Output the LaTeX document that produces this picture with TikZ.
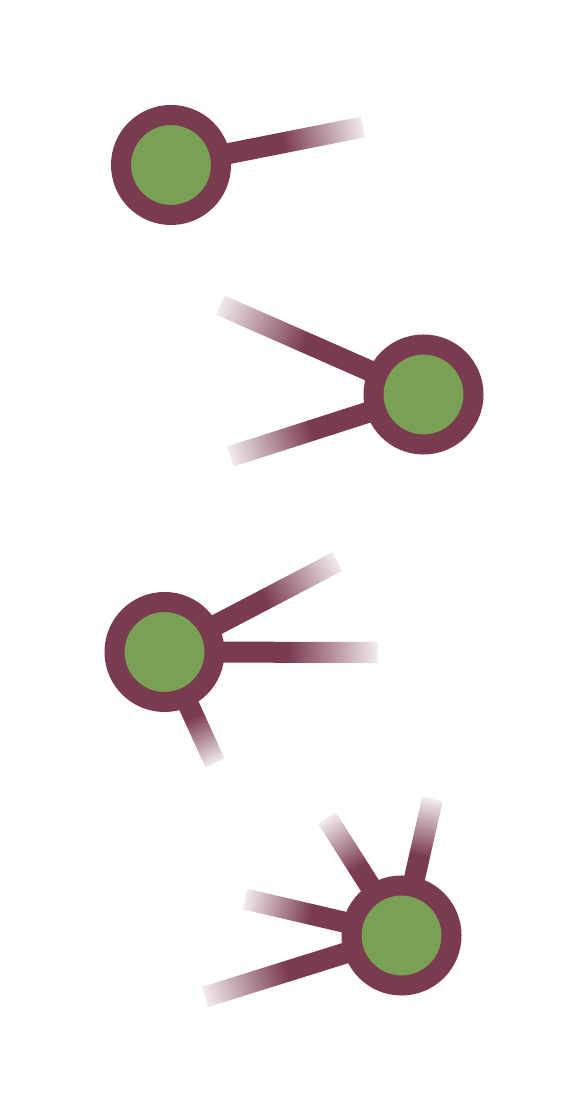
\documentclass[tikz,border=0pt]{standalone}
\usetikzlibrary{calc, backgrounds}

\definecolor{hubred}{RGB}{122,58,80}
\definecolor{hubgreen}{RGB}{120,161,84}
\pgfdeclarehorizontalshading{stubfade}{100bp}{color(0bp)=(hubred); color(54bp)=(hubred); color(75bp)=(hubred!10!white); color(100bp)=(hubred!10!white)}

\begin{document}
\begin{tikzpicture}[
    hub/.style={circle, draw=hubred, fill=hubgreen, line width=0.4cm, minimum size=2cm, inner sep=0pt},
    ]
    \useasboundingbox (0,0) rectangle (11.76,22);
    % hubs
    \node [hub] (n1) at (3.42,18.70) {};
    \node [hub] (n2) at (8.47,14.11) {};
    \node [hub] (n3) at (3.29,8.96) {};
    \node [hub] (n4) at (8.03,3.29) {};
    % free ends of the stubs
    \coordinate (e1a) at (7.26,19.46);
    \coordinate (e2a) at (4.40,15.90);
    \coordinate (e2b) at (4.61,12.87);
    \coordinate (e3a) at (6.75,10.77);
    \coordinate (e3b) at (7.55,8.95);
    \coordinate (e3c) at (4.30,6.74);
    \coordinate (e4a) at (8.65,6.02);
    \coordinate (e4b) at (6.54,5.64);
    \coordinate (e4c) at (4.90,4.02);
    \coordinate (e4d) at (4.10,2.06);
    % fading stubs
    \begin{scope}[on background layer]
    \foreach \from/\to in {n1/e1a, n2/e2a, n2/e2b, n3/e3a, n3/e3b, n3/e3c, n4/e4a, n4/e4b, n4/e4c, n4/e4d}{
        \path let \p1 = ($(\to)-(\from)$) in
            \pgfextra{\pgfmathparse{atan2(\y1,\x1)}\xdef\stubangle{\pgfmathresult}%
                      \pgfmathparse{veclen(\x1,\y1)}\xdef\stublength{\pgfmathresult pt}};
        \shade [shading=stubfade, transform canvas={shift={(\from)}, rotate=\stubangle}]
            (0,-0.21) rectangle (\stublength,0.21);
    }
    \end{scope}
\end{tikzpicture}
\end{document}
